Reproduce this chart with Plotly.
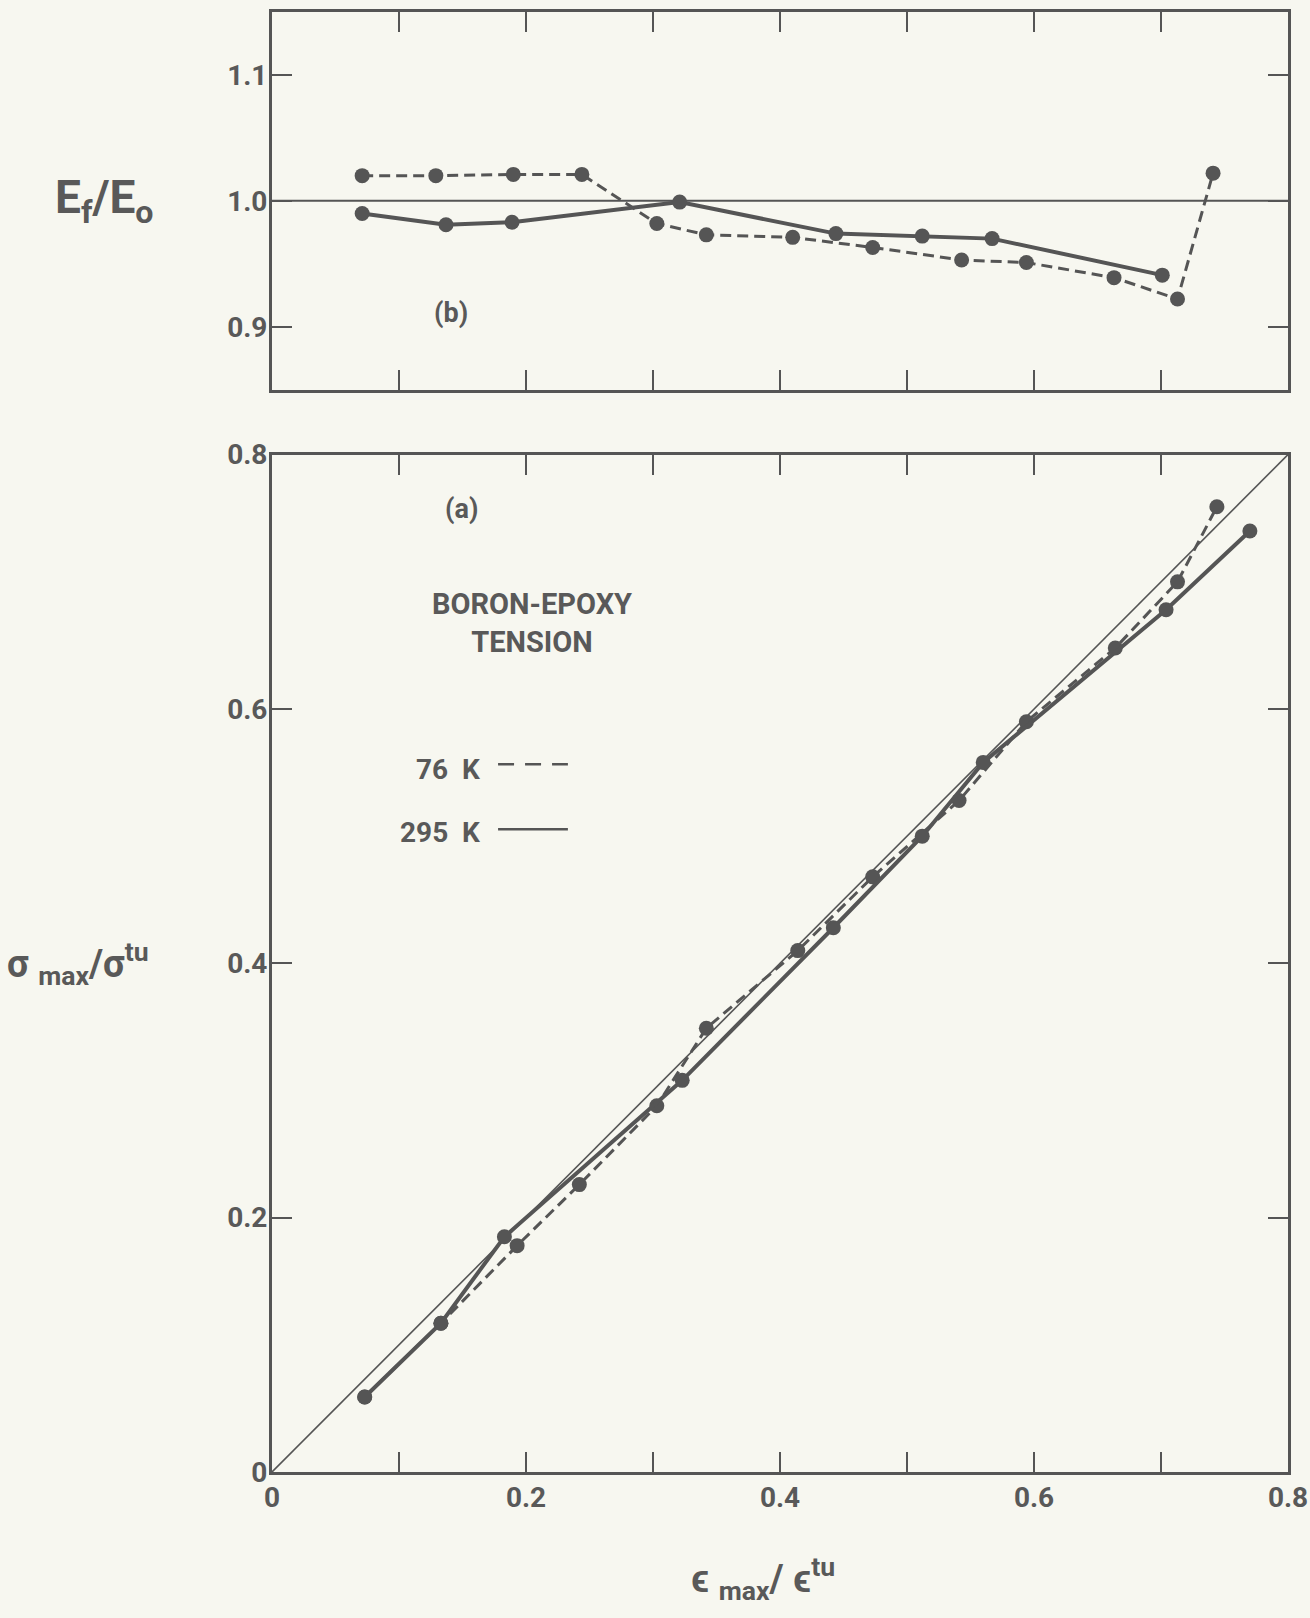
import plotly.graph_objects as go

# Strain ratio at which each specimen was unloaded, and the measured ratios
# (b) modulus ratio E_f/E_o
mod_x_76 = [0.071, 0.129, 0.190, 0.244, 0.303, 0.342, 0.410, 0.473, 0.543, 0.594, 0.663, 0.713, 0.741]
mod_y_76 = [1.020, 1.020, 1.021, 1.021, 0.982, 0.973, 0.971, 0.963, 0.953, 0.951, 0.939, 0.922, 1.022]
mod_x_295 = [0.071, 0.137, 0.189, 0.321, 0.444, 0.512, 0.567, 0.701]
mod_y_295 = [0.990, 0.981, 0.983, 0.999, 0.974, 0.972, 0.970, 0.941]

# (a) stress ratio sigma_max/sigma_tu
str_x_76 = [0.073, 0.133, 0.193, 0.242, 0.303, 0.342, 0.414, 0.473, 0.541, 0.594, 0.664, 0.713, 0.744]
str_y_76 = [0.059, 0.117, 0.178, 0.226, 0.288, 0.349, 0.410, 0.468, 0.528, 0.590, 0.648, 0.700, 0.759]
str_x_295 = [0.073, 0.133, 0.183, 0.323, 0.442, 0.512, 0.560, 0.704, 0.770]
str_y_295 = [0.059, 0.117, 0.185, 0.308, 0.428, 0.500, 0.558, 0.678, 0.740]

# reference lines: E_f/E_o = 1 and sigma ratio = strain ratio
unity_x = [0.0, 0.8]
unity_y = [1.0, 1.0]
diag_x = [0.0, 0.8]
diag_y = [0.0, 0.8]

x_major = [0, 0.2, 0.4, 0.6, 0.8]
x_major_text = ["0", "0.2", "0.4", "0.6", "0.8"]
x_minor = [0.1, 0.3, 0.5, 0.7]
x_all = [0.1, 0.2, 0.3, 0.4, 0.5, 0.6, 0.7]
mod_ticks = [0.9, 1.0, 1.1]
mod_ticktext = ["0.9", "1.0", "1.1"]
str_ticks = [0, 0.2, 0.4, 0.6, 0.8]
str_ticktext = ["0", "0.2", "0.4", "0.6", "0.8"]

INK = "#555555"
TEXT = "#595959"
BG = "#f7f7f0"
FONT = "Roboto, Liberation Sans, sans-serif"

fig = go.Figure()

# --- panel (b): modulus ratio ---
fig.add_trace(go.Scatter(x=unity_x, y=unity_y, mode="lines",
                         line=dict(color=INK, width=2), xaxis="x", yaxis="y",
                         showlegend=False, hoverinfo="skip"))
fig.add_trace(go.Scatter(x=mod_x_76, y=mod_y_76, mode="lines+markers",
                         line=dict(color=INK, width=3, dash="11px,6px"),
                         marker=dict(color=INK, size=15),
                         xaxis="x", yaxis="y", showlegend=False))
fig.add_trace(go.Scatter(x=mod_x_295, y=mod_y_295, mode="lines+markers",
                         line=dict(color=INK, width=4),
                         marker=dict(color=INK, size=15),
                         xaxis="x", yaxis="y", showlegend=False))

# --- panel (a): stress ratio ---
fig.add_trace(go.Scatter(x=diag_x, y=diag_y, mode="lines",
                         line=dict(color=INK, width=1.6), xaxis="x2", yaxis="y2",
                         showlegend=False, hoverinfo="skip"))
fig.add_trace(go.Scatter(x=str_x_76, y=str_y_76, mode="lines+markers",
                         line=dict(color=INK, width=3, dash="11px,6px"),
                         marker=dict(color=INK, size=15),
                         xaxis="x2", yaxis="y2", showlegend=False))
fig.add_trace(go.Scatter(x=str_x_295, y=str_y_295, mode="lines+markers",
                         line=dict(color=INK, width=4),
                         marker=dict(color=INK, size=15),
                         xaxis="x2", yaxis="y2", showlegend=False))

tick_font = dict(family=FONT, size=28, color=TEXT, weight="bold")
axis_common = dict(showgrid=False, zeroline=False, showline=True, linecolor=INK,
                   linewidth=3, mirror="ticks", ticks="inside", ticklen=20,
                   tickwidth=2, tickcolor=INK, tickfont=tick_font,
                   ticklabeloverflow="allow")

fig.update_layout(
    width=1310, height=1618,
    margin=dict(l=272, r=22, t=12, b=146, autoexpand=False),
    paper_bgcolor=BG, plot_bgcolor=BG,
    font=dict(family=FONT, color=TEXT),
    xaxis=dict(domain=[0, 1], anchor="y", range=[0, 0.8], tickmode="array",
               tickvals=x_all, showticklabels=False, **axis_common),
    yaxis=dict(domain=[0.7413, 1.0], anchor="x", range=[0.85, 1.15], tickmode="array",
               tickvals=mod_ticks, ticktext=mod_ticktext, ticklabelstandoff=-4,
               **axis_common),
    xaxis2=dict(domain=[0, 1], anchor="y2", range=[0, 0.8], tickmode="array",
                tickvals=x_major, ticktext=x_major_text, ticklabelstandoff=-2,
                minor=dict(tickmode="array", tickvals=x_minor, ticks="inside",
                           ticklen=20, tickwidth=2, tickcolor=INK),
                **axis_common),
    yaxis2=dict(domain=[0, 0.6968], anchor="x2", range=[0, 0.8], tickmode="array",
                tickvals=str_ticks, ticktext=str_ticktext, ticklabelstandoff=-4,
                **axis_common),
)

# axis titles
fig.add_annotation(text="E<sub>f</sub>/E<sub>o</sub>", xref="paper", yref="y",
                   x=-0.2156, y=1.0, xanchor="left", yanchor="middle", showarrow=False,
                   font=dict(family=FONT, size=46, color=TEXT, weight="bold"))
fig.add_annotation(text="σ <sub>max</sub>/σ<sup>tu</sup>", xref="paper", yref="y2",
                   x=-0.263, y=0.4, xanchor="left", yanchor="middle", showarrow=False,
                   font=dict(family=FONT, size=38, color=TEXT, weight="bold"))
fig.add_annotation(text="ϵ <sub>max</sub>/ ϵ<sup>tu</sup>", xref="x2", yref="paper",
                   x=0.387, y=-0.073, xanchor="center", yanchor="middle", showarrow=False,
                   font=dict(family=FONT, size=38, color=TEXT, weight="bold"))

label_font = dict(family=FONT, size=27, color=TEXT, weight="bold")
# panel labels and the specimen description
fig.add_annotation(text="(b)", xref="x", yref="y", x=0.141, y=0.911,
                   showarrow=False, font=label_font)
fig.add_annotation(text="(a)", xref="x2", yref="y2", x=0.149, y=0.757,
                   showarrow=False, font=label_font)
fig.add_annotation(text="BORON-EPOXY<br>TENSION", xref="x2", yref="y2",
                   x=0.205, y=0.668, showarrow=False, align="center",
                   font=dict(family=FONT, size=29, color=TEXT, weight="bold"))

# key: temperature labels with line samples
fig.add_annotation(text="76  K", xref="x2", yref="y2", x=0.165, y=0.5526,
                   xanchor="right", showarrow=False,
                   font=dict(family=FONT, size=28, color=TEXT, weight="bold"))
fig.add_annotation(text="295  K", xref="x2", yref="y2", x=0.165, y=0.5026,
                   xanchor="right", showarrow=False,
                   font=dict(family=FONT, size=28, color=TEXT, weight="bold"))
fig.add_shape(type="line", xref="x2", yref="y2", x0=0.178, x1=0.233, y0=0.5565, y1=0.5565,
              line=dict(color=INK, width=2.5, dash="16px,11px"))
fig.add_shape(type="line", xref="x2", yref="y2", x0=0.178, x1=0.233, y0=0.5055, y1=0.5055,
              line=dict(color=INK, width=2.5))

fig.write_html("out.html")
